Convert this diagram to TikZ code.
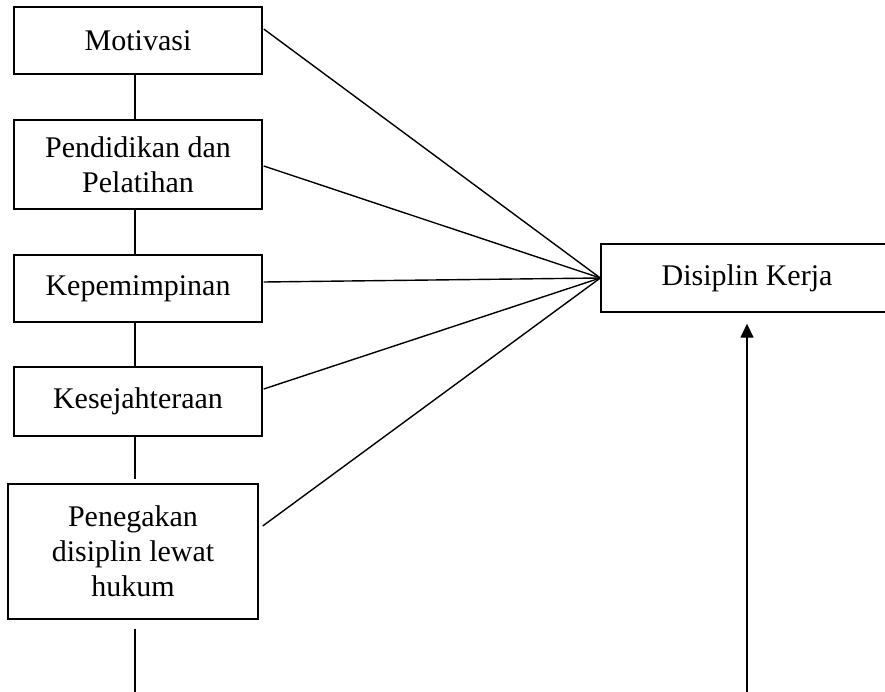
\documentclass[tikz,border=0pt]{standalone}
\usepackage{fontspec}
\setmainfont{Liberation Serif}
\usetikzlibrary{arrows.meta}
\begin{document}
\begin{tikzpicture}[x=1pt,y=-1pt,
  box/.style={draw,line width=1.4pt,rectangle,inner sep=0pt,align=center,
    font=\fontsize{30}{35}\selectfont},
  conn/.style={line width=1.4pt}]
\clip (0,0) rectangle (885,692);
\node[box,minimum width=248pt,minimum height=67pt] (b1) at (138,40.5) {Motivasi};
\node[box,minimum width=248pt,minimum height=89pt] (b2) at (138,164.5) {Pendidikan dan\\Pelatihan};
\node[box,minimum width=248pt,minimum height=67pt] (b3) at (138,288.5) {Kepemimpinan};
\node[box,minimum width=248pt,minimum height=69pt] (b4) at (138,401.5) {Kesejahteraan};
\node[box,minimum width=250pt,minimum height=135pt] (b5) at (133,551.5) {Penegakan\\disiplin lewat\\hukum};
\node[box,minimum width=292pt,minimum height=68pt] (dk) at (747,278) {Disiplin Kerja};
\coordinate (lx) at (135,0);
\coordinate (bot) at (135,692);
\coordinate (abot) at (747,692);
% vertical chain
\draw[conn] (b1.south -| lx) -- (b2.north -| lx);
\draw[conn] (b2.south -| lx) -- (b3.north -| lx);
\draw[conn] (b3.south -| lx) -- (b4.north -| lx);
\draw[conn] (b4.south -| lx) -- ([yshift=4pt]b5.north -| lx);
\draw[conn] ([yshift=-9pt]b5.south -| lx) -- (bot);
% converging lines
\draw[conn] ([xshift=1pt,yshift=11.5pt]b1.east) -- (dk.west);
\draw[conn] ([xshift=1pt,yshift=-1.5pt]b2.east) -- (dk.west);
\draw[conn] ([xshift=1pt,yshift=6.5pt]b3.east) -- (dk.west);
\draw[conn] ([xshift=1pt,yshift=12.5pt]b4.east) -- (dk.west);
\draw[conn] ([xshift=4pt,yshift=25.5pt]b5.east) -- (dk.west);
% arrow
\draw[conn,-{Triangle[width=13pt,length=14pt]},shorten >=11pt] (abot) -- (dk.south);
\end{tikzpicture}
\end{document}
